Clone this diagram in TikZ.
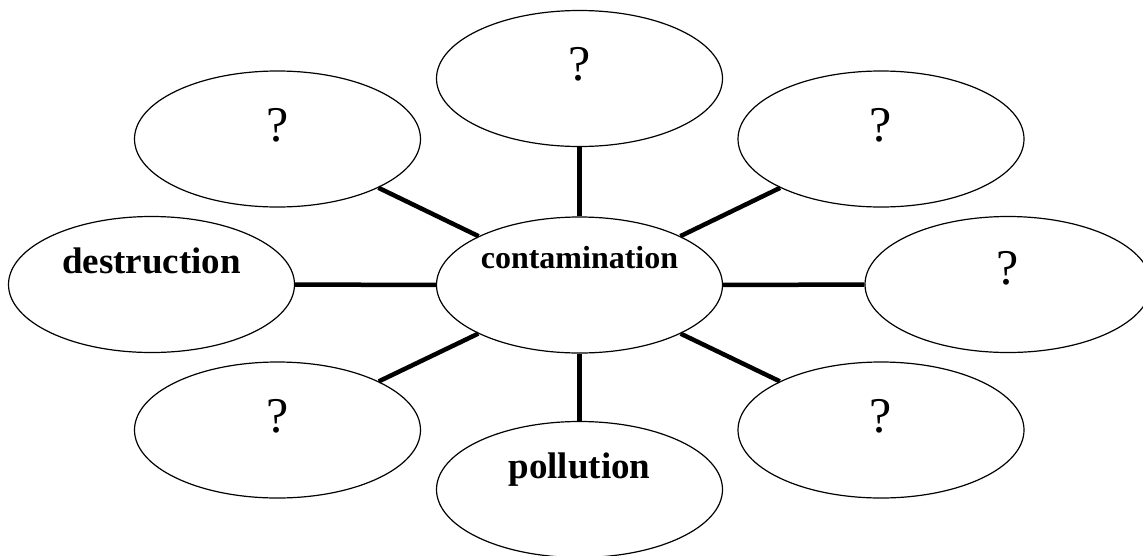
\documentclass[tikz,border=0pt]{standalone}
\usepackage{fontspec}
\setmainfont{Liberation Serif}
\usetikzlibrary{shapes.geometric}

\begin{document}
\begin{tikzpicture}[x=1pt,y=-1pt,
  bubble/.style={draw,ellipse,line width=1.2pt,minimum width=286pt,minimum height=136pt,inner sep=0pt},
  qmark/.style={font=\fontsize{50}{50}\selectfont,yshift=14pt},
  word/.style={font=\fontsize{37}{40}\selectfont\bfseries},
  spoke/.style={line width=4.5pt}]
\useasboundingbox (0,0) rectangle (1143,555);
\node (C) [bubble,label={[word,font=\fontsize{32}{36}\selectfont\bfseries,yshift=27pt]center:contamination}] at (579.5,285) {};
\node (N) [bubble,label={[qmark]center:?}] at (579.5,78.5) {};
\node (NW) [bubble,label={[qmark]center:?}] at (277.5,139) {};
\node (NE) [bubble,label={[qmark]center:?}] at (881,139) {};
\node (W) [bubble,label={[word,yshift=24pt]center:destruction}] at (151.5,284.5) {};
\node (E) [bubble,label={[qmark,yshift=2pt]center:?}] at (1008,284.5) {};
\node (SW) [bubble,label={[qmark]center:?}] at (277.5,430) {};
\node (SE) [bubble,label={[qmark]center:?}] at (881,430) {};
\node (S) [bubble,label={[word,yshift=20pt]center:pollution}] at (579.5,489.5) {};
\foreach \n in {N,NW,NE,W,E,SW,SE,S}
  \draw [spoke] (C) -- (\n);
\end{tikzpicture}
\end{document}
